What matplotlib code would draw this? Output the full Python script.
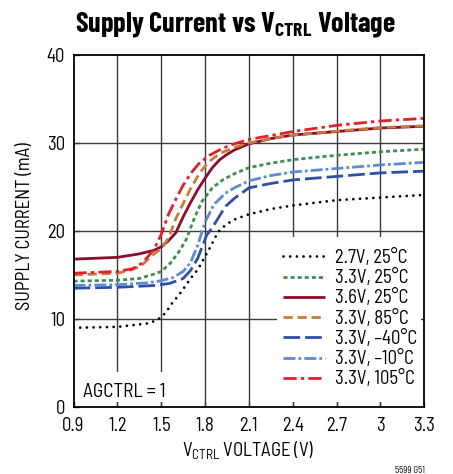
import matplotlib
matplotlib.use("Agg")
import matplotlib.pyplot as plt
from matplotlib.patches import Rectangle

# Supply current (mA) against control voltage (V), one trace per supply/temperature
v_27_25 = [0.9, 1.2, 1.41, 1.46, 1.5, 1.54, 1.56, 1.59, 1.62, 1.65, 1.68, 1.71, 1.75, 1.78, 1.81,
           1.84, 1.87, 1.9, 1.95, 2.0, 2.1, 2.25, 2.4, 2.55, 2.7, 2.9, 3.1, 3.3]
i_27_25 = [9.0, 9.1, 9.5, 9.8, 10.2, 10.9, 11.5, 12.1, 12.7, 13.4, 14.1, 14.8, 15.6, 16.5, 17.4,
           18.3, 19.3, 20.1, 20.8, 21.3, 21.9, 22.5, 22.9, 23.2, 23.5, 23.7, 23.9, 24.1]

v_33_25 = [0.9, 1.2, 1.35, 1.45, 1.5, 1.56, 1.62, 1.67, 1.73, 1.78, 1.85, 1.92, 2.0, 2.1, 2.25,
           2.4, 2.7, 3.0, 3.3]
i_33_25 = [14.3, 14.4, 14.6, 15.1, 15.4, 16.3, 17.6, 19.0, 21.6, 23.4, 24.9, 25.8, 26.5, 27.2, 27.7,
           28.1, 28.6, 29.0, 29.3]

v_36_25 = [0.9, 1.2, 1.35, 1.45, 1.5, 1.55, 1.6, 1.65, 1.7, 1.75, 1.8, 1.85, 1.9, 1.95, 2.0,
           2.1, 2.25, 2.4, 2.7, 3.0, 3.3]
i_36_25 = [16.8, 17.0, 17.4, 17.8, 18.2, 18.9, 19.8, 21.6, 23.2, 24.7, 26.0, 27.2, 28.1, 28.7, 29.2,
           29.9, 30.5, 30.9, 31.3, 31.7, 31.9]

v_33_85 = [0.9, 1.2, 1.3, 1.36, 1.43, 1.5, 1.55, 1.6, 1.65, 1.7, 1.76, 1.82, 1.9, 2.0, 2.1,
           2.25, 2.4, 2.7, 3.0, 3.3]
i_33_85 = [15.0, 15.2, 15.6, 16.0, 17.1, 18.0, 19.2, 21.4, 23.1, 24.8, 26.5, 27.8, 28.8, 29.5, 30.0,
           30.5, 30.9, 31.35, 31.75, 31.95]

v_33_m40 = [0.9, 1.2, 1.45, 1.56, 1.65, 1.7, 1.75, 1.78, 1.81, 1.85, 1.88, 1.94, 2.0, 2.1, 2.25,
            2.4, 2.7, 3.0, 3.3]
i_33_m40 = [13.5, 13.6, 13.8, 14.05, 14.6, 15.5, 16.9, 18.2, 19.5, 20.4, 21.2, 22.8, 23.7, 24.9, 25.4,
            25.8, 26.2, 26.6, 26.8]

v_33_m10 = [0.9, 1.2, 1.4, 1.5, 1.58, 1.65, 1.7, 1.75, 1.8, 1.86, 1.94, 2.0, 2.1, 2.25, 2.4,
            2.7, 3.0, 3.3]
i_33_m10 = [13.8, 13.9, 14.1, 14.35, 14.7, 15.4, 16.4, 18.4, 21.0, 23.0, 24.3, 24.9, 25.7, 26.3, 26.7,
            27.1, 27.5, 27.8]

v_33_105 = [0.9, 1.2, 1.3, 1.35, 1.4, 1.45, 1.5, 1.55, 1.6, 1.65, 1.7, 1.76, 1.83, 1.92, 2.0,
            2.1, 2.4, 2.7, 3.0, 3.3]
i_33_105 = [15.2, 15.4, 15.7, 16.1, 16.9, 17.9, 19.6, 21.9, 23.6, 25.2, 26.5, 27.7, 28.6, 29.4, 29.9,
            30.4, 31.3, 32.0, 32.5, 32.8]

labels = ["2.7V, 25°C", "3.3V, 25°C", "3.6V, 25°C", "3.3V, 85°C",
          "3.3V, –40°C", "3.3V, –10°C", "3.3V, 105°C"]

x_ticks = [0.9, 1.2, 1.5, 1.8, 2.1, 2.4, 2.7, 3.0, 3.3]
x_tick_labels = ["0.9", "1.2", "1.5", "1.8", "2.1", "2.4", "2.7", "3", "3.3"]
y_ticks = [0, 10, 20, 30, 40]

BODY = "Barlow Semi Condensed"
HEAD = "Barlow Condensed"
plt.rcParams["font.family"] = [BODY, "DejaVu Sans"]
plt.rcParams["mathtext.fontset"] = "custom"
plt.rcParams["mathtext.rm"] = BODY
plt.rcParams["mathtext.bf"] = HEAD + ":bold"
plt.rcParams["lines.scale_dashes"] = False

fig = plt.figure(figsize=(4.53, 4.74), dpi=100)
ax = fig.add_axes([0.1623, 0.1414, 0.7744, 0.7426])
renderer = fig.canvas.get_renderer()


def fit_width(txt, max_px):
    # shrink a text until it is no wider than max_px
    while txt.get_window_extent(renderer).width > max_px and txt.get_fontsize() > 6:
        txt.set_fontsize(txt.get_fontsize() - 0.25)


ax.set_xlim(0.9, 3.3)
ax.set_ylim(0, 40)

grid_kw = dict(color="#3a3a3a", lw=1.0, zorder=0.5)
for xv in x_ticks[1:-1]:
    ax.axvline(xv, **grid_kw)
for yv in y_ticks[1:-1]:
    ax.axhline(yv, **grid_kw)

# white panels behind the legend and the note
ax.add_patch(Rectangle((0.580, 0.0142), 0.4106, 0.469, transform=ax.transAxes,
                       facecolor="white", edgecolor="none", zorder=1))
ax.add_patch(Rectangle((0.0014, 0.0142), 0.317, 0.085, transform=ax.transAxes,
                       facecolor="white", edgecolor="none", zorder=1))

lw = 2.0
series = [
    (v_27_25, i_27_25, "black", (0, (0.01, 4.8)), "round"),
    (v_33_25, i_33_25, "#3f8d4e", (0, (2.9, 2.2)), "butt"),
    (v_36_25, i_36_25, "#8b0c2c", "-", "butt"),
    (v_33_85, i_33_85, "#c47c3b", (0, (6.7, 3.4)), "butt"),
    (v_33_m40, i_33_m40, "#2e4fa6", (0, (12, 3.6)), "butt"),
    (v_33_m10, i_33_m10, "#5b8bd0", (0, (8.6, 2.2, 2.0, 2.2)), "butt"),
    (v_33_105, i_33_105, "#e31f2e", (0, (9.5, 3.0, 2.4, 3.0)), "butt"),
]
for (xs, ys, col, ls, cap), lab in zip(series, labels):
    ax.plot(xs, ys, color=col, linestyle=ls, lw=lw, dash_capstyle=cap,
            solid_capstyle="butt", label=lab, zorder=3)

ax.set_xticks(x_ticks)
ax.set_xticklabels(x_tick_labels)
ax.set_yticks(y_ticks)
ax.tick_params(direction="in", length=3.6, width=1.0, labelsize=13.5, color="#3a3a3a")
ax.tick_params(axis="x", pad=7)
ax.tick_params(axis="y", pad=6)
for sp in ax.spines.values():
    sp.set_linewidth(1.3)
    sp.set_zorder(4)

# legend text sized so the longest entry spans about 80 px
probe = fig.text(0, 0, labels[-1], fontsize=13.5)
fit_width(probe, 82)
leg_size = probe.get_fontsize()
probe.remove()

em = leg_size * 100 / 72
leg = ax.legend(loc="upper left", bbox_to_anchor=(0.597, 0.449), frameon=False,
                fontsize=leg_size, handlelength=42 / em, handletextpad=10 / em,
                labelspacing=0.12, borderpad=0, borderaxespad=0)
leg.set_zorder(2)

note = ax.text(0.027, 0.028, "AGCTRL = 1", transform=ax.transAxes, fontsize=14,
               ha="left", va="baseline", zorder=2)
fit_width(note, 88)

title = fig.text(0.519, 0.9325, r"Supply Current vs V$_\mathbf{CTRL}$ Voltage",
                 family=HEAD, fontsize=21, fontweight="bold", ha="center", va="baseline")
fit_width(title, 322)
xlab = fig.text(0.548, 1 - 457 / 474, r"V$_\mathrm{CTRL}$ VOLTAGE (V)",
                fontsize=13.5, ha="center", va="baseline")
fit_width(xlab, 148)
ylab = fig.text(0.055, 1 - 226 / 474, "SUPPLY CURRENT (mA)", fontsize=13.5,
                rotation=90, ha="center", va="center")
fit_width(ylab, 200)
fig.text(0.938, 1 - 473 / 474, "5599 G51", fontsize=6.5, ha="right", va="baseline")

fig.savefig("out.png", dpi=100)
